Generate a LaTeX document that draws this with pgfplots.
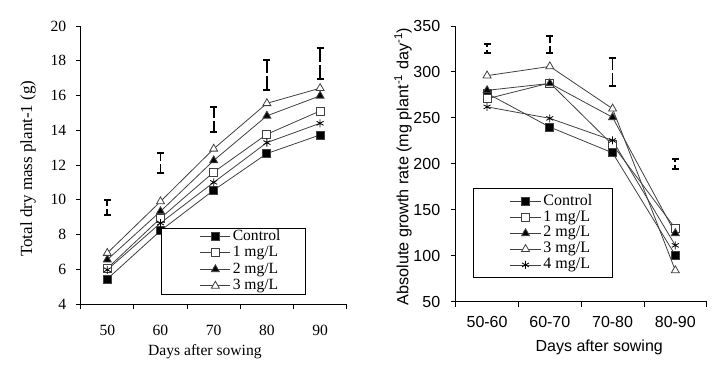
\documentclass[border=0pt]{standalone}
\usepackage{fontspec}
\setmainfont{Liberation Serif}
\newfontfamily\arial{Liberation Sans}
\usepackage{pgfplots}
\usepackage{pgfplotstable}
\pgfplotsset{compat=1.18}
% LSD bars, drawn as two halves with a small gap in the middle
\pgfplotstableread{
x hi lo e
50 9.64 9.46 0.36
60 12.21 12.03 0.48
70 14.72 14.54 0.64
80 17.28 17.10 0.78
90 17.94 17.76 0.81
}\lsdA
\pgfplotstableread{
x hi lo e
0.5 327.3 324.1 3.1
1.5 331.5 328.3 8.0
2.5 301.7 298.5 13.8
3.5 201.5 198.3 3.9
}\lsdB
\begin{document}
\begin{tikzpicture}
\path[use as bounding box] (0,0) rectangle (717bp,365bp);
\pgfplotsset{
  every axis/.append style={
    scale only axis, anchor=south west,
    axis x line*=bottom, axis y line*=left,
    axis line style={-, line width=0.9bp, black},
    tick align=outside, major tick length=5bp,
    tick style={line width=0.9bp, black},
    x tick label as interval,
    /pgf/number format/assume math mode=true,
    clip=false,
    legend cell align=left,
  },
  ser/.style={color=black!75, line width=0.8bp, mark options={solid, draw=black, line width=0.8bp}},
  lsdup/.style={forget plot, draw=none, mark=none,
    error bars/.cd, y dir=plus, y explicit,
    error bar style={draw=black, line width=1.8bp},
    error mark options={rotate=90, mark size=3.5bp, line width=1.8bp, draw=black}},
  lsddn/.style={forget plot, draw=none, mark=none,
    error bars/.cd, y dir=minus, y explicit,
    error bar style={draw=black, line width=1.8bp},
    error mark options={rotate=90, mark size=3.5bp, line width=1.8bp, draw=black}},
}
% ---------------- left ----------------
\begin{axis}[
  at={(80.7bp,61bp)}, width=266bp, height=278bp,
  xmin=45, xmax=95, ymin=4, ymax=20,
  xtick={45,55,...,95}, xticklabels={50,60,70,80,90},
  ytick={4,6,...,20},
  tick label style={font=\fontsize{15.6bp}{18bp}\selectfont},
  xticklabel style={yshift=-12.5bp},
  yticklabel style={xshift=-6bp},
  xlabel={Days after sowing},
  xlabel style={font=\fontsize{15.6bp}{18bp}\selectfont, at={(axis description cs:0.467,-0.187)}, anchor=base},
  ylabel={Total dry mass plant-1 (g)},
  ylabel style={font=\fontsize{17bp}{20bp}\selectfont, at={(axis description cs:-0.198,0.487)}, anchor=center},
  legend image code/.code={\path (0bp,0bp); \draw[mark repeat=2,mark phase=2,#1] plot coordinates {(16bp,0bp) (31bp,0bp) (46bp,0bp)};},
  legend style={at={(axis description cs:0.302,0.2745)}, anchor=north west,
    draw=black, line width=0.9bp, inner xsep=22.5bp, inner ysep=0bp, row sep=0bp,
    font=\fontsize{15.6bp}{18bp}\selectfont,
    nodes={inner ysep=0bp, inner xsep=2bp, text height=12bp, text depth=4.5bp}},
]
\addplot[lsdup] table[x=x, y=hi, y error=e] {\lsdA};
\addplot[lsddn] table[x=x, y=lo, y error=e] {\lsdA};
\addplot[ser, mark=square*, mark size=4bp, mark options={fill=black}] coordinates {(50,5.44) (60,8.22) (70,10.55) (80,12.66) (90,13.73)};
\addlegendentry{Control}
\addplot[ser, mark=square*, mark size=4bp, mark options={fill=white}] coordinates {(50,6.05) (60,8.94) (70,11.59) (80,13.77) (90,15.11)};
\addlegendentry{1 mg/L}
\addplot[ser, mark=triangle*, mark size=4.6bp, mark options={fill=black}] coordinates {(50,6.55) (60,9.33) (70,12.26) (80,14.83) (90,15.98)};
\addlegendentry{2 mg/L}
\addplot[ser, mark=triangle*, mark size=4.6bp, mark options={fill=white}] coordinates {(50,6.93) (60,9.9) (70,12.93) (80,15.55) (90,16.42)};
\addlegendentry{3 mg/L}
\addplot[ser, forget plot, mark=asterisk, mark size=4bp] coordinates {(50,5.97) (60,8.66) (70,11.0) (80,13.29) (90,14.4)};
\end{axis}
% ---------------- right ----------------
\begin{axis}[
  at={(455.7bp,63.3bp)}, width=251bp, height=275.7bp,
  xmin=0, xmax=4, ymin=50, ymax=350,
  xtick={0,1,...,4}, xticklabels={50-60,60-70,70-80,80-90},
  ytick={50,100,...,350},
  tick label style={font=\arial\fontsize{16bp}{19bp}\selectfont},
  xticklabel style={yshift=-6bp},
  yticklabel style={xshift=-7bp},
  xlabel={Days after sowing},
  xlabel style={font=\arial\fontsize{16bp}{19bp}\selectfont, at={(axis description cs:0.572,-0.18)}, anchor=base},
  ylabel={Absolute growth rate (mg plant\textsuperscript{-1} day\textsuperscript{-1})},
  ylabel style={font=\arial\fontsize{16.2bp}{19bp}\selectfont, at={(axis description cs:-0.21,0.49)}, anchor=center},
  legend image code/.code={\path (0bp,0bp); \draw[mark repeat=2,mark phase=2,#1] plot coordinates {(18bp,0bp) (33.5bp,0bp) (49bp,0bp)};},
  legend style={at={(axis description cs:0.0677,0.411)}, anchor=north west,
    draw=black, line width=0.9bp, inner xsep=18.5bp, inner ysep=5bp, row sep=0bp,
    font=\fontsize{16bp}{19bp}\selectfont,
    nodes={inner ysep=0bp, inner xsep=2bp, text height=11.5bp, text depth=4.3bp}},
]
\addplot[lsdup] table[x=x, y=hi, y error=e] {\lsdB};
\addplot[lsddn] table[x=x, y=lo, y error=e] {\lsdB};
\addplot[ser, mark=square*, mark size=4bp, mark options={fill=black}] coordinates {(0.5,276.7) (1.5,240) (2.5,212) (3.5,100.6)};
\addlegendentry{Control}
\addplot[ser, mark=square*, mark size=4bp, mark options={fill=white}] coordinates {(0.5,270.8) (1.5,288) (2.5,220.7) (3.5,129.8)};
\addlegendentry{1 mg/L}
\addplot[ser, mark=triangle*, mark size=4.6bp, mark options={fill=black}] coordinates {(0.5,280) (1.5,287.5) (2.5,250.6) (3.5,124.4)};
\addlegendentry{2 mg/L}
\addplot[ser, mark=triangle*, mark size=4.6bp, mark options={fill=white}] coordinates {(0.5,296) (1.5,306) (2.5,260) (3.5,84)};
\addlegendentry{3 mg/L}
\addplot[ser, mark=asterisk, mark size=4bp] coordinates {(0.5,262) (1.5,249.5) (2.5,225.5) (3.5,111.3)};
\addlegendentry{4 mg/L}
\end{axis}
\end{tikzpicture}
\end{document}
